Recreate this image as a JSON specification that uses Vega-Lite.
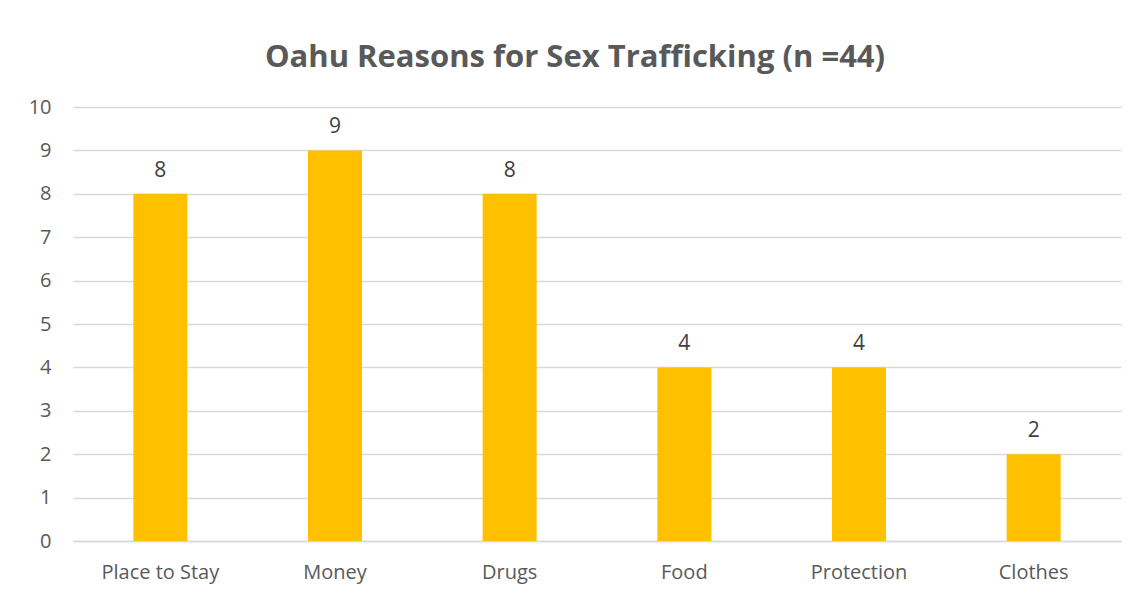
{
  "$schema": "https://vega.github.io/schema/vega-lite/v6.json",
  "autosize": {"type": "none"},
  "width": 1048,
  "height": 434,
  "padding": {"left": 73, "top": 107, "right": 22, "bottom": 54},
  "background": "white",
  "config": {
    "view": {"stroke": null},
    "font": "Open Sans"
  },
  "title": {
    "text": "Oahu Reasons for Sex Trafficking (n =44)",
    "font": "Open Sans",
    "fontSize": 31,
    "fontWeight": "bold",
    "color": "#595959",
    "anchor": "middle",
    "dx": -22,
    "offset": 23
  },
  "data": {
    "values": [
      {"reason": "Place to Stay", "count": 8},
      {"reason": "Money", "count": 9},
      {"reason": "Drugs", "count": 8},
      {"reason": "Food", "count": 4},
      {"reason": "Protection", "count": 4},
      {"reason": "Clothes", "count": 2}
    ]
  },
  "encoding": {
    "x": {
      "field": "reason",
      "type": "nominal",
      "sort": null,
      "scale": {"paddingInner": 0, "paddingOuter": 0},
      "axis": {
        "title": null,
        "labelAngle": 0,
        "labelFontSize": 20,
        "labelColor": "#595959",
        "labelPadding": 21,
        "ticks": false,
        "domain": true,
        "domainColor": "#d9d9d9",
        "domainWidth": 1.5,
        "grid": false
      }
    },
    "y": {
      "field": "count",
      "type": "quantitative",
      "scale": {"domain": [0, 10], "nice": false},
      "axis": {
        "title": null,
        "values": [0,1,2,3,4,5,6,7,8,9,10],
        "labelFontSize": 20,
        "labelColor": "#595959",
        "labelPadding": 22,
        "ticks": false,
        "domain": false,
        "grid": true,
        "gridColor": "#d9d9d9",
        "gridWidth": 1.5
      }
    }
  },
  "layer": [
    {"mark": {"type": "bar", "size": 54, "color": "#FFC000"}},
    {
      "mark": {"type": "text", "baseline": "alphabetic", "dy": -17, "fontSize": 21, "color": "#404040"},
      "encoding": {"text": {"field": "count", "type": "quantitative"}}
    }
  ]
}
